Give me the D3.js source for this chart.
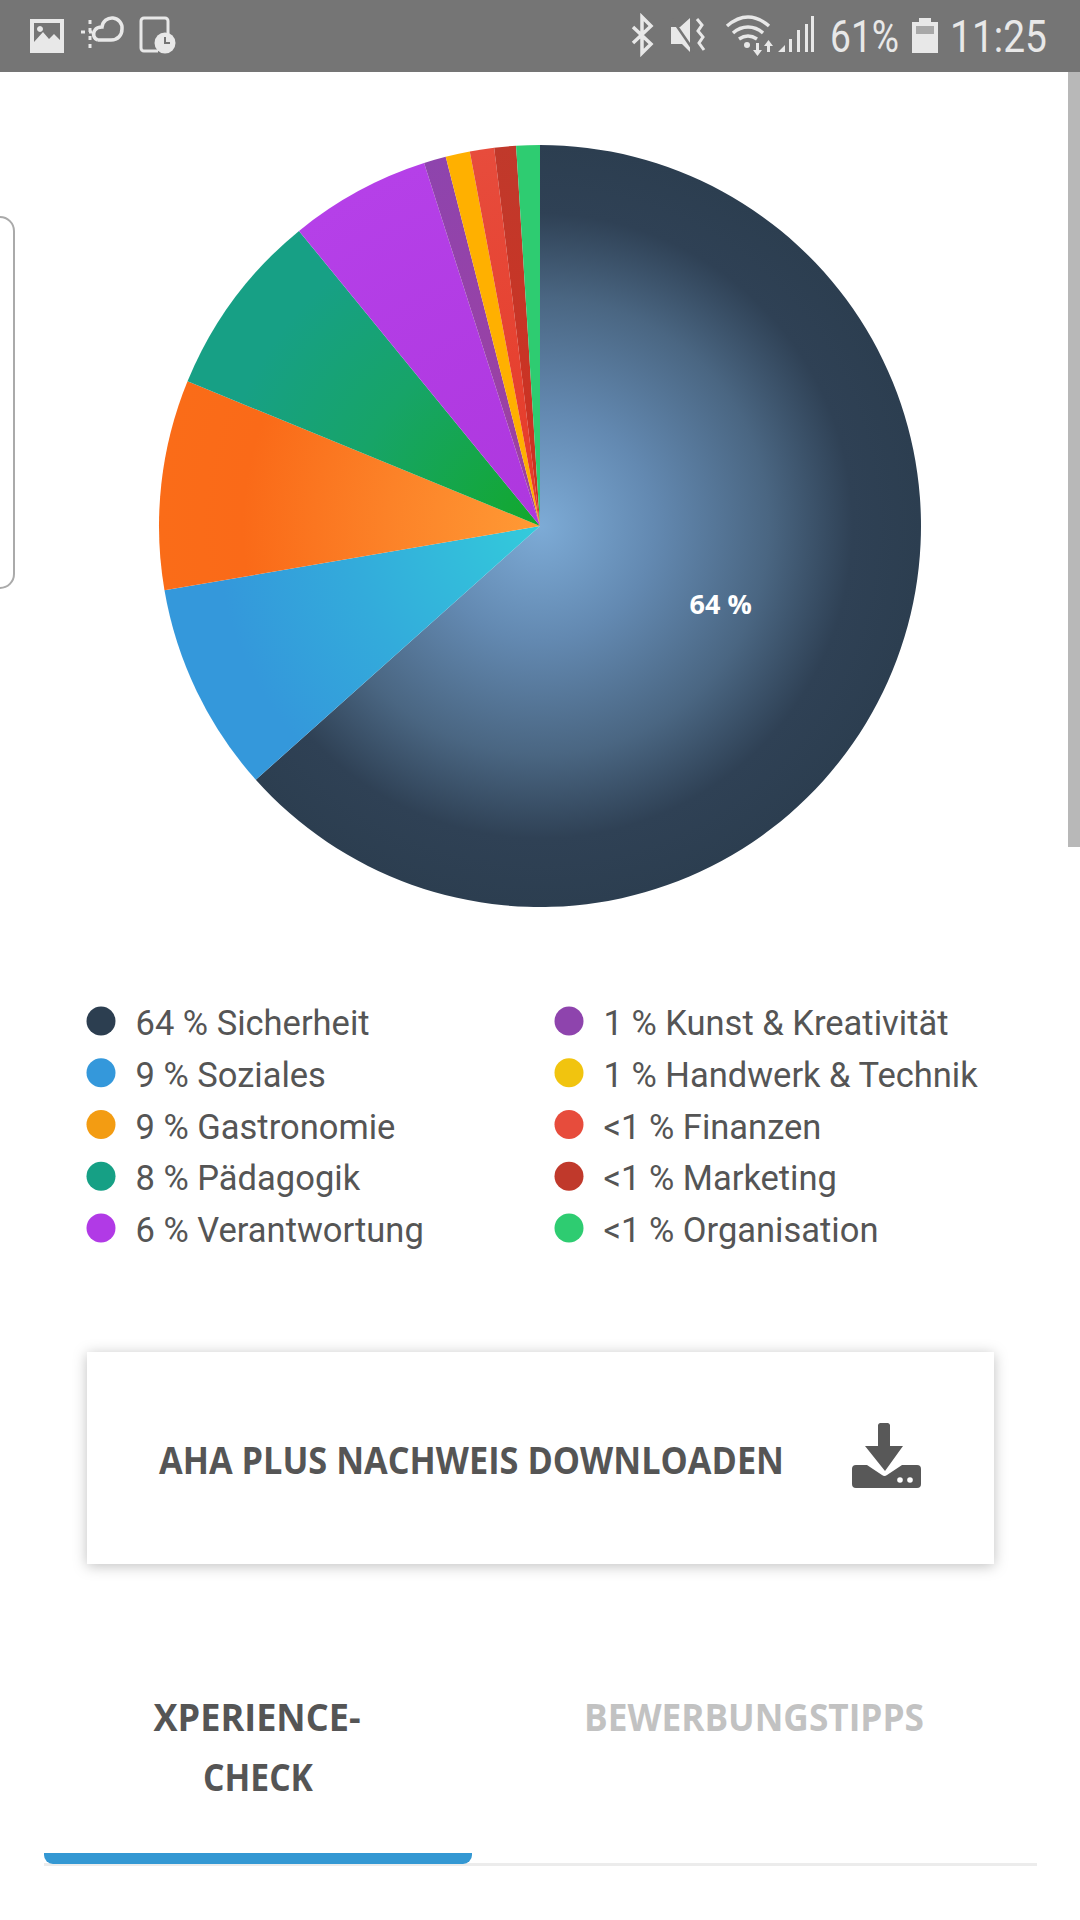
<!DOCTYPE html>
<html>
<head>
<meta charset="utf-8">
<style>
  html, body { margin: 0; padding: 0; background: #fff; }
  svg { display: block; }
  .din { font-family: "Open Sans", sans-serif; font-weight: 700; }
</style>
</head>
<body>
<svg id="chart" width="1080" height="1920"></svg>
<script src="https://cdn.jsdelivr.net/npm/d3@7"></script>
<script>
// chart values
var categories = ["Sicherheit", "Soziales", "Gastronomie", "Pädagogik", "Verantwortung",
                  "Kunst & Kreativität", "Handwerk & Technik", "Finanzen", "Marketing", "Organisation"];
var shares = [63.4, 8.9, 8.9, 7.9, 5.98, 0.94, 1.03, 1.03, 0.92, 1.0];
var shareLabels = ["64 %", "9 %", "9 %", "8 %", "6 %", "1 %", "1 %", "<1 %", "<1 %", "<1 %"];
var legendColors = ["#2c3e50", "#3498db", "#f39c12", "#16a085", "#b13ae6",
                    "#8e44ad", "#f1c40f", "#e74c3c", "#c0392b", "#2ecc71"];

// radial gradient of every slice, centre to rim
var sliceStops = [
    [[0, "#7dabd6"], [0.3, "#6389b1"], [0.6, "#4a6682"], [0.82, "#2f4155"], [1, "#2c3e50"]],
    [[0, "#33cbdb"], [0.5, "#33abdb"], [0.85, "#3498db"], [1, "#3498db"]],
    [[0, "#ff9a35"], [0.4, "#fc8228"], [0.78, "#fa6a18"], [1, "#fa6c18"]],
    [[0, "#12a82c"], [0.5, "#17a468"], [0.85, "#17a085"], [1, "#17a085"]],
    [[0, "#ae37de"], [1, "#b540e8"]],
    [[0, "#a040a0"], [1, "#8e44ad"]],
    [[0, "#ffb000"], [1, "#ffb000"]],
    [[0, "#e63a28"], [1, "#e74c3c"]],
    [[0, "#d03020"], [1, "#c0392b"]],
    [[0, "#2ecc71"], [1, "#2ecc71"]]
];

var svg = d3.select("#chart");
var defs = svg.append("defs");

var cx = 540, cy = 526, radius = 381;

//status bar
svg.append("rect").attr("width", 1080).attr("height", 72).attr("fill", "#757575");
var statusIcons = svg.append("g").attr("fill", "#e8e8e8");

statusIcons.append("path").attr("fill-rule", "evenodd")
    .attr("d", "M30 19h34v34H30z M34 23v19l9-10 6 7 5-5 6 6V23z M40 26a3 3 0 1 0 .01 0z");
statusIcons.append("path").attr("fill", "none").attr("stroke", "#e8e8e8").attr("stroke-width", 3.5)
    .attr("d", "M98 40h13c7 0 11-5 11-11a10 10 0 0 0-20-2c-2 0-5 0-7 3-3 4-1 9 3 10");
statusIcons.append("path").attr("fill", "none").attr("stroke", "#e8e8e8").attr("stroke-width", 3)
    .attr("stroke-dasharray", "4 4").attr("d", "M81 32h11 M90 20v32");
statusIcons.append("path").attr("fill", "none").attr("stroke", "#e8e8e8").attr("stroke-width", 3)
    .attr("d", "M158 51h-14a3 3 0 0 1-3-3V21a3 3 0 0 1 3-3h21a3 3 0 0 1 3 3v13");
statusIcons.append("circle").attr("cx", 165).attr("cy", 43).attr("r", 10.5);
statusIcons.append("path").attr("fill", "none").attr("stroke", "#757575").attr("stroke-width", 2)
    .attr("d", "M165 37v6h5");

statusIcons.append("path").attr("fill", "none").attr("stroke", "#e8e8e8").attr("stroke-width", 3.5)
    .attr("d", "M633 27l18 17-9 9V17l9 9-18 17");
statusIcons.append("path")
    .attr("d", "M671 27h9l10-9v34l-8-8h-11z");
statusIcons.append("path").attr("fill", "none").attr("stroke", "#e8e8e8").attr("stroke-width", 3)
    .attr("d", "M697 19l5 6-4 6 5 6-4 6 5 7");
statusIcons.append("path").attr("fill", "none").attr("stroke", "#757575").attr("stroke-width", 2.5)
    .attr("d", "M672 19l22 32");
statusIcons.append("path").attr("fill", "none").attr("stroke", "#e8e8e8").attr("stroke-width", 3.5)
    .attr("d", "M727 26c14-12 28-12 42 0 M733 33c9-8 21-8 30 0 M739 39c6-4 12-4 18 0");
statusIcons.append("circle").attr("cx", 747).attr("cy", 45).attr("r", 3);
statusIcons.append("path").attr("d", "M756 43h3v7h3l-4.5 6-4.5-6h3z M767 52h3v-6h3l-4.5-6-4.5 6h3z");
statusIcons.append("path")
    .attr("d", "M778 52l7-7v7z M789 52V39h3v13z M797 52V30h3v22z M805 52V24h3v28z M811 52V16h3v36z");
statusIcons.append("path").attr("d", "M912 22h7v-4h12v4h7v31h-26z");
statusIcons.append("rect").attr("x", 916).attr("y", 26).attr("width", 18).attr("height", 8).attr("fill", "#a8a8a8");

svg.append("text").text("61%").attr("x", 830).attr("y", 52)
    .attr("textLength", 69).attr("lengthAdjust", "spacingAndGlyphs")
    .attr("font-family", "Roboto").attr("font-size", 44).attr("fill", "#e8e8e8");
svg.append("text").text("11:25").attr("x", 950).attr("y", 52)
    .attr("textLength", 97).attr("lengthAdjust", "spacingAndGlyphs")
    .attr("font-family", "Roboto").attr("font-size", 44).attr("fill", "#e8e8e8");

//scrollbar and the drawer handle on the left
svg.append("rect").attr("x", 1068).attr("y", 72).attr("width", 12).attr("height", 775).attr("fill", "#b8b8b8");
svg.append("rect").attr("x", -30).attr("y", 217).attr("width", 44).attr("height", 371).attr("rx", 14)
    .attr("fill", "#fff").attr("stroke", "#aaaaaa").attr("stroke-width", 2);

//pie
var pie = d3.pie().sort(null).value(function(d) { return d; });
var arcs = pie(shares);
var arc = d3.arc().innerRadius(0).outerRadius(radius);
var labelArc = d3.arc().innerRadius(198).outerRadius(198);

sliceStops.forEach(function(stops, i) {
    var grad = defs.append("radialGradient")
        .attr("id", "slice" + i)
        .attr("gradientUnits", "userSpaceOnUse")
        .attr("cx", 0).attr("cy", 0).attr("r", radius);
    grad.selectAll("stop").data(stops).enter().append("stop")
        .attr("offset", function(d) { return d[0]; })
        .attr("stop-color", function(d) { return d[1]; });
});

var pieGroup = svg.append("g").attr("transform", "translate(" + cx + "," + cy + ")");

pieGroup.selectAll("path")
    .data(arcs)
    .enter().append("path")
    .attr("d", arc)
    .attr("fill", function(d, i) { return "url(#slice" + i + ")"; });

pieGroup.append("text")
    .attr("transform", "translate(" + labelArc.centroid(arcs[0]) + ")")
    .attr("class", "din")
    .attr("text-anchor", "middle")
    .attr("dy", ".26em")
    .attr("font-size", 27)
    .attr("fill", "#fff")
    .text(shareLabels[0]);

//legend
var rowY = d3.scalePoint().domain(d3.range(5)).range([1021, 1228]);
var legend = svg.selectAll(".legend")
    .data(categories)
    .enter().append("g")
    .attr("class", "legend")
    .attr("transform", function(d, i) {
        return "translate(" + (i < 5 ? 101 : 569) + "," + rowY(i % 5) + ")";
    });

legend.append("circle")
    .attr("r", 14.5)
    .attr("fill", function(d, i) { return legendColors[i]; });

legend.append("text")
    .attr("x", 34.5)
    .attr("y", 2)
    .attr("dy", ".35em")
    .attr("font-family", "Roboto")
    .attr("font-size", 34.5)
    .attr("fill", "#555555")
    .text(function(d, i) { return shareLabels[i] + " " + d; });

//download button
defs.append("filter").attr("id", "shadow")
    .attr("x", "-5%").attr("y", "-15%").attr("width", "110%").attr("height", "130%")
    .append("feDropShadow")
    .attr("dx", 0).attr("dy", 2).attr("stdDeviation", 7)
    .attr("flood-color", "#000").attr("flood-opacity", 0.25);

svg.append("rect").attr("x", 87).attr("y", 1352).attr("width", 907).attr("height", 212)
    .attr("fill", "#fff").attr("filter", "url(#shadow)");

svg.append("text").text("AHA PLUS NACHWEIS DOWNLOADEN")
    .attr("class", "din")
    .attr("x", 159).attr("y", 1474)
    .attr("textLength", 625).attr("lengthAdjust", "spacingAndGlyphs")
    .attr("font-size", 38).attr("fill", "#555555");

svg.append("path").attr("fill", "#585858")
    .attr("d", "M876 1423h12a3 3 0 0 1 2 2v21h13l-18 25-20-25h13v-21a3 3 0 0 1 2-2z");
svg.append("path").attr("fill", "#585858").attr("fill-rule", "evenodd")
    .attr("d", "M852 1469a4 4 0 0 1 4-4h11l15 10a4 4 0 0 0 5 0l15-10h15a4 4 0 0 1 4 4v15a4 4 0 0 1-4 4h-61a4 4 0 0 1-4-4z");
svg.append("circle").attr("cx", 900).attr("cy", 1480).attr("r", 2.8).attr("fill", "#fff");
svg.append("circle").attr("cx", 910).attr("cy", 1480).attr("r", 2.8).attr("fill", "#fff");

//tabs
var tabs = svg.append("g").attr("class", "din").attr("text-anchor", "middle").attr("font-size", 38);
tabs.append("text").text("XPERIENCE-").attr("x", 257).attr("y", 1731).attr("fill", "#555555")
    .attr("textLength", 207).attr("lengthAdjust", "spacingAndGlyphs");
tabs.append("text").text("CHECK").attr("x", 258).attr("y", 1791).attr("fill", "#555555")
    .attr("textLength", 110).attr("lengthAdjust", "spacingAndGlyphs");
tabs.append("text").text("BEWERBUNGSTIPPS").attr("x", 754).attr("y", 1731).attr("fill", "#c2c2c2")
    .attr("textLength", 340).attr("lengthAdjust", "spacingAndGlyphs");

svg.append("rect").attr("x", 44).attr("y", 1863).attr("width", 993).attr("height", 3).attr("fill", "#ececec");
svg.append("path").attr("fill", "#3498d3")
    .attr("d", "M44 1853H472v2a9 9 0 0 1-9 9H53a9 9 0 0 1-9-9z");
</script>
</body>
</html>
